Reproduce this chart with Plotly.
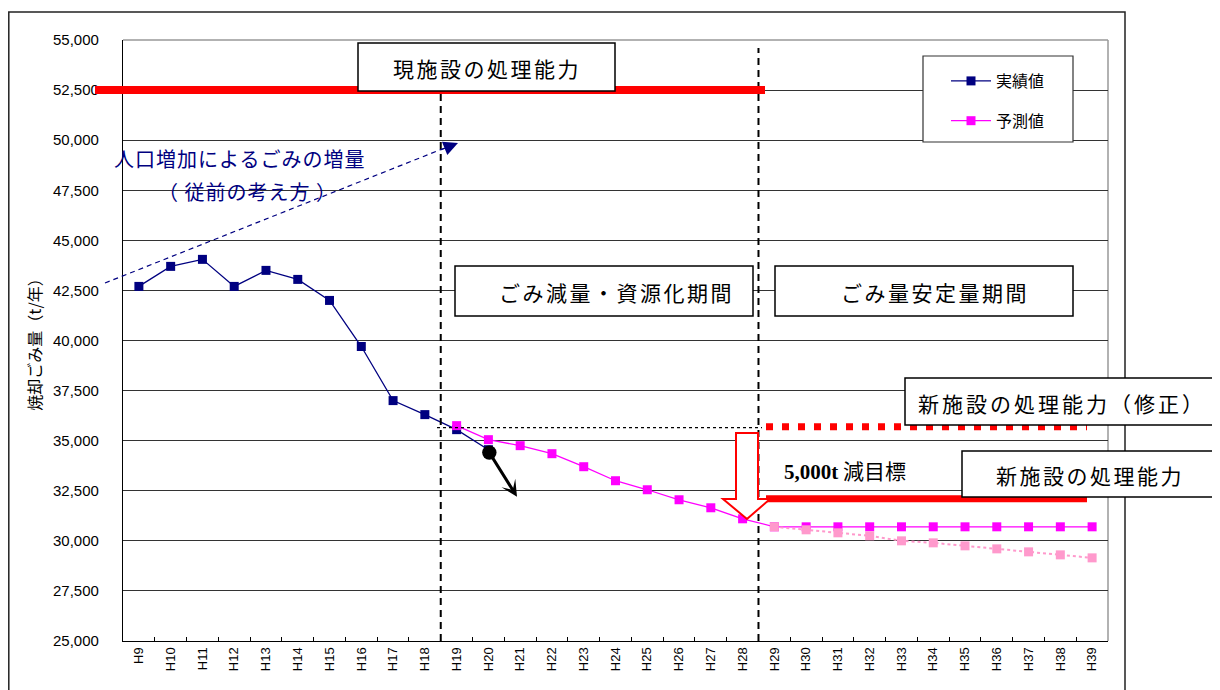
import plotly.graph_objects as go

# ---------------- data ----------------
categories = ["H9", "H10", "H11", "H12", "H13", "H14", "H15", "H16", "H17", "H18",
              "H19", "H20", "H21", "H22", "H23", "H24", "H25", "H26", "H27", "H28",
              "H29", "H30", "H31", "H32", "H33", "H34", "H35", "H36", "H37", "H38", "H39"]

actual_labels = ["H9", "H10", "H11", "H12", "H13", "H14", "H15", "H16", "H17", "H18", "H19", "H20"]
actual_values = [42700, 43700, 44050, 42700, 43500, 43050, 42000, 39700, 37000, 36300, 35550, 34550]

pred_labels = ["H19", "H20", "H21", "H22", "H23", "H24", "H25", "H26", "H27", "H28",
               "H29", "H30", "H31", "H32", "H33", "H34", "H35", "H36", "H37", "H38", "H39"]
pred_values = [35750, 35050, 34750, 34350, 33700, 33000, 32550, 32050, 31650, 31100,
               30700, 30700, 30700, 30700, 30700, 30700, 30700, 30700, 30700, 30700, 30700]

alt_labels = ["H29", "H30", "H31", "H32", "H33", "H34", "H35", "H36", "H37", "H38", "H39"]
alt_values = [30700, 30550, 30400, 30250, 30000, 29900, 29750, 29600, 29450, 29300, 29150]

y_ticks = [25000, 27500, 30000, 32500, 35000, 37500, 40000, 42500, 45000, 47500, 50000, 52500, 55000]

current_capacity = 52500       # 現施設の処理能力
new_capacity = 32100           # 新施設の処理能力
new_capacity_revised = 35700   # 新施設の処理能力（修正）
reference_level = 35650        # dotted reference line

# ---------------- layout helpers (screen pixel -> paper) ----------------
PAGE_OFF = 8                      # default body margin of the html page
FIG_W, FIG_H = 1220 - PAGE_OFF, 690 - PAGE_OFF
L, T, W, H = 123, 40, 985, 601    # plot area in screen pixels
Y_MIN, Y_MAX = y_ticks[0], y_ticks[-1]


def px(x):
    return (x - L) / W


def py(y):
    return (T + H - y) / H


def pv(v):
    return (v - Y_MIN) / (Y_MAX - Y_MIN)


def pbound(i):
    return (i + 1) / len(categories)


NAVY = "#000080"
MAGENTA = "#FF00FF"
PINK = "#FF99CC"
RED = "#FF0000"
JP = "Noto Sans CJK JP"

fig = go.Figure()

fig.add_trace(go.Scatter(
    x=actual_labels, y=actual_values, name="実績値", mode="lines+markers",
    line=dict(color=NAVY, width=1.3),
    marker=dict(symbol="square", size=9, color=NAVY),
    legendgroup="a"))

fig.add_trace(go.Scatter(
    x=pred_labels, y=pred_values, name="予測値", mode="lines+markers",
    line=dict(color=MAGENTA, width=1.3),
    marker=dict(symbol="square", size=9, color=MAGENTA),
    legendgroup="b"))

fig.add_trace(go.Scatter(
    x=alt_labels, y=alt_values, name="予測値(参考)", mode="lines+markers",
    line=dict(color=PINK, width=2, dash="dot"),
    marker=dict(symbol="square", size=9, color=PINK),
    showlegend=False))

shapes = []
annotations = []

# outer frame
shapes.append(dict(type="rect", xref="paper", yref="paper",
                   x0=px(8.8), x1=px(1125), y0=py(705), y1=py(12),
                   line=dict(color="#222222", width=1.5), layer="below"))
# plot area top / right border (grey)
shapes.append(dict(type="line", xref="paper", yref="paper", x0=0, x1=1, y0=1, y1=1,
                   line=dict(color="#999999", width=1.5), layer="below"))
shapes.append(dict(type="line", xref="paper", yref="paper", x0=1, x1=1, y0=0, y1=1,
                   line=dict(color="#999999", width=1.5), layer="below"))

# vertical dashed period boundaries (between H18/H19 and H28/H29)
for idx in (9, 19):
    shapes.append(dict(type="line", xref="paper", yref="paper",
                       x0=pbound(idx), x1=pbound(idx), y0=0, y1=py(48),
                       line=dict(color="black", width=2, dash="7px,5px"), layer="above"))

# current capacity (thick red)
shapes.append(dict(type="line", xref="paper", yref="paper",
                   x0=px(95), x1=px(765), y0=pv(current_capacity), y1=pv(current_capacity),
                   line=dict(color=RED, width=8), layer="above"))
# reference dotted line
shapes.append(dict(type="line", xref="paper", yref="paper",
                   x0=px(437), x1=px(762), y0=pv(reference_level), y1=pv(reference_level),
                   line=dict(color="black", width=1.2, dash="dot"), layer="above"))
# new capacity revised (red square dots)
shapes.append(dict(type="line", xref="paper", yref="paper",
                   x0=px(766), x1=px(1087), y0=pv(new_capacity_revised), y1=pv(new_capacity_revised),
                   line=dict(color=RED, width=7, dash="7px,9px"), layer="above"))
# new capacity (thick red)
shapes.append(dict(type="line", xref="paper", yref="paper",
                   x0=px(766), x1=px(1087), y0=pv(new_capacity), y1=pv(new_capacity),
                   line=dict(color=RED, width=7), layer="above"))

# hollow red down arrow
arrow_pts = [(736, 433), (758, 433), (758, 499), (770, 499), (747, 519), (723, 499), (736, 499)]
path = "M " + " L ".join(f"{px(a):.5f},{py(b):.5f}" for a, b in arrow_pts) + " Z"
shapes.append(dict(type="path", xref="paper", yref="paper", path=path,
                   fillcolor="white", line=dict(color=RED, width=2), layer="above"))

# blue dashed trend line (population increase)
shapes.append(dict(type="line", xref="paper", yref="paper",
                   x0=px(105), y0=py(283), x1=px(446), y1=py(147.5),
                   line=dict(color=NAVY, width=1.2, dash="5px,4px"), layer="above"))

# legend background box
shapes.append(dict(type="rect", xref="paper", yref="paper",
                   x0=px(923), x1=px(1073), y0=py(142), y1=py(56),
                   fillcolor="white", line=dict(color="#333333", width=1.2), layer="above"))


def box(text, x0, y0, x1, y1, tx, ty, size=21, spacing=2.5):
    shapes.append(dict(type="rect", xref="paper", yref="paper",
                       x0=px(x0), x1=px(x1), y0=py(y1), y1=py(y0),
                       fillcolor="white", line=dict(color="black", width=1.5), layer="above"))
    annotations.append(dict(
        text=f'<span style="letter-spacing:{spacing}px">{text}</span>',
        xref="paper", yref="paper", x=px(tx), y=py(ty),
        xanchor="center", yanchor="middle", showarrow=False,
        font=dict(family=JP, size=size, color="black")))


box("現施設の処理能力", 358, 43, 615, 91, 487, 68)
box("ごみ減量・資源化期間", 455, 266, 753, 316, 616, 292)
box("ごみ量安定量期間", 775, 266, 1073, 316, 935, 292)
box("新施設の処理能力（修正）", 905, 378, 1213, 425, 1062, 403, spacing=3)
box("新施設の処理能力", 962, 451, 1217, 497, 1090, 475)

annotations.append(dict(text='<span style="letter-spacing:1px">人口増加によるごみの増量</span>',
                        xref="paper", yref="paper",
                        x=px(112), y=py(158), xanchor="left", yanchor="middle", showarrow=False,
                        font=dict(family=JP, size=20, color=NAVY)))
annotations.append(dict(text='<span style="letter-spacing:1px">（ 従前の考え方 ）</span>',
                        xref="paper", yref="paper",
                        x=px(156), y=py(191), xanchor="left", yanchor="middle", showarrow=False,
                        font=dict(family=JP, size=20, color=NAVY)))
annotations.append(dict(
    text='<span style="font-family:Liberation Serif"><b>5,000t</b></span> 減目標',
    xref="paper", yref="paper", x=px(782), y=py(470), xanchor="left", yanchor="middle",
    showarrow=False, font=dict(family=JP, size=21, color="black")))

# arrowhead of the blue dashed trend line
annotations.append(dict(text="", xref="paper", yref="paper", x=px(458), y=py(143),
                        ax=-19, ay=7.6, showarrow=True, arrowhead=2, arrowsize=2.4,
                        arrowwidth=1.2, arrowcolor=NAVY))

# black arrow from H20 actual
annotations.append(dict(text="", xref="x", yref="y", axref="x", ayref="y",
                        x=11.9, y=32200, ax=11.0, ay=34480, showarrow=True,
                        arrowhead=3, arrowsize=0.9, arrowwidth=3, arrowcolor="black",
                        arrowside="end+start", startarrowhead=6, startarrowsize=1.2))

fig.update_layout(
    width=FIG_W, height=FIG_H,
    margin=dict(l=L - PAGE_OFF, r=FIG_W - (L - PAGE_OFF) - W, t=T - PAGE_OFF,
                b=FIG_H - (T - PAGE_OFF) - H),
    plot_bgcolor="white", paper_bgcolor="white",
    font=dict(family="Liberation Sans, Arial, " + JP, color="black"),
    shapes=shapes, annotations=annotations,
    legend=dict(x=px(946), y=py(64), xanchor="left", yanchor="top",
                bgcolor="rgba(0,0,0,0)", borderwidth=0,
                font=dict(family=JP, size=16, color="black"),
                traceorder="grouped", tracegroupgap=16, itemwidth=40),
    xaxis=dict(type="category", categoryorder="array", categoryarray=categories,
               range=[-0.5, len(categories) - 0.5],
               tickangle=-90, tickson="boundaries", ticks="inside", ticklen=4,
               tickcolor="black", tickwidth=1,
               showline=True, linecolor="black", linewidth=1.3, showgrid=False,
               tickfont=dict(family="Liberation Sans", size=13, color="black")),
    yaxis=dict(range=[Y_MIN, Y_MAX], tickvals=y_ticks, tickformat=",",
               showline=True, linecolor="black", linewidth=1.3,
               showgrid=True, gridcolor="#333333", gridwidth=1,
               ticks="", ticklabelstandoff=20, zeroline=False,
               tickfont=dict(family="Liberation Sans", size=15, color="black"),
               title=dict(text="焼却ごみ量（t/年）", standoff=7,
                          font=dict(family=JP, size=16, color="black"))),
)

fig.write_html("out.html")
